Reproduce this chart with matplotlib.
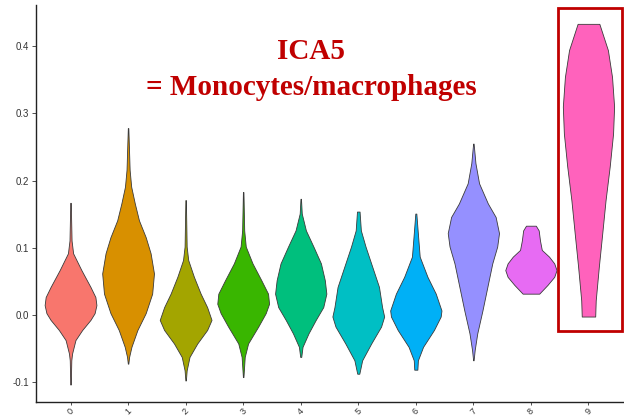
import matplotlib
matplotlib.use("Agg")
import matplotlib.pyplot as plt
import numpy as np
from matplotlib.patches import Rectangle

plt.rcParams.update({
    "font.family": ["Liberation Sans", "DejaVu Sans"],
    "axes.unicode_minus": False,
})

# ── Data: violin profiles (ICA5 level, relative width) ──
clusters = ["0", "1", "2", "3", "4", "5", "6", "7", "8", "9"]
colors = ["#F8766D", "#D89000", "#A3A500", "#39B600", "#00BF7D",
          "#00BFC4", "#00B0F6", "#9590FF", "#E76BF3", "#FF62BC"]

ica5_c0 = [0.167, 0.111, 0.092, 0.067, 0.042, 0.027, 0.015, 0.003, -0.007, -0.022, -0.037, -0.057, -0.067, -0.103]
dens_c0 = [0.01, 0.04, 0.10, 0.42, 0.77, 0.96, 1.00, 0.93, 0.77, 0.45, 0.19, 0.06, 0.03, 0.01]

ica5_c1 = [0.278, 0.216, 0.191, 0.166, 0.141, 0.116, 0.092, 0.062, 0.032, 0.003, -0.022, -0.047, -0.062, -0.072]
dens_c1 = [0.01, 0.06, 0.12, 0.26, 0.42, 0.68, 0.87, 1.00, 0.93, 0.68, 0.36, 0.13, 0.04, 0.01]

ica5_c2 = [0.171, 0.102, 0.082, 0.057, 0.032, 0.012, -0.007, -0.022, -0.042, -0.062, -0.082, -0.097]
dens_c2 = [0.01, 0.04, 0.10, 0.32, 0.58, 0.83, 1.00, 0.83, 0.45, 0.15, 0.04, 0.01]

ica5_c3 = [0.183, 0.126, 0.102, 0.077, 0.052, 0.032, 0.017, 0.003, -0.017, -0.042, -0.062, -0.092]
dens_c3 = [0.01, 0.04, 0.10, 0.36, 0.70, 0.96, 1.00, 0.87, 0.58, 0.19, 0.06, 0.01]

ica5_c4 = [0.173, 0.151, 0.126, 0.102, 0.077, 0.052, 0.032, 0.012, -0.007, -0.027, -0.047, -0.062]
dens_c4 = [0.01, 0.04, 0.20, 0.49, 0.78, 0.93, 0.99, 0.87, 0.58, 0.30, 0.07, 0.02]

ica5_c5 = [0.154, 0.126, 0.102, 0.072, 0.042, 0.012, -0.002, -0.017, -0.042, -0.067, -0.087]
dens_c5 = [0.05, 0.10, 0.28, 0.54, 0.80, 0.92, 1.00, 0.88, 0.50, 0.15, 0.04]

ica5_c6 = [0.151, 0.126, 0.087, 0.057, 0.032, 0.007, -0.002, -0.022, -0.047, -0.067, -0.081]
dens_c6 = [0.02, 0.07, 0.15, 0.45, 0.77, 0.99, 0.96, 0.70, 0.28, 0.08, 0.06]

ica5_c7 = [0.255, 0.226, 0.196, 0.166, 0.146, 0.122, 0.102, 0.077, 0.042, 0.007, -0.027, -0.052, -0.067]
dens_c7 = [0.01, 0.08, 0.22, 0.56, 0.86, 0.99, 0.92, 0.73, 0.54, 0.35, 0.15, 0.05, 0.01]

ica5_c8 = [0.133, 0.126, 0.111, 0.097, 0.087, 0.077, 0.067, 0.057, 0.045, 0.032]
dens_c8 = [0.19, 0.30, 0.35, 0.42, 0.70, 0.90, 0.99, 0.90, 0.64, 0.32]

ica5_c9 = [0.433, 0.394, 0.354, 0.310, 0.270, 0.221, 0.171, 0.121, 0.072, 0.022, -0.002]
dens_c9 = [0.42, 0.75, 0.91, 0.99, 0.95, 0.82, 0.66, 0.53, 0.40, 0.28, 0.26]

levels = [ica5_c0, ica5_c1, ica5_c2, ica5_c3, ica5_c4, ica5_c5, ica5_c6, ica5_c7, ica5_c8, ica5_c9]
dens = [dens_c0, dens_c1, dens_c2, dens_c3, dens_c4, dens_c5, dens_c6, dens_c7, dens_c8, dens_c9]

yticks = [-0.1, 0.0, 0.1, 0.2, 0.3, 0.4]
ytick_labels = ["-0.1", "0.0", "0.1", "0.2", "0.3", "0.4"]

# ── Figure ──────────────────────────────────────────────────
fig = plt.figure(figsize=(6.24, 4.18), dpi=100)
ax = fig.add_axes([36 / 624, 16 / 418, 587 / 624, 397 / 418])

half = 0.45
for i, (lv, d, col) in enumerate(zip(levels, dens, colors)):
    lv = np.array(lv)
    d = np.array(d)
    ax.fill_betweenx(lv, i - half * d, i + half * d, facecolor=col,
                     edgecolor="#3a3a3a", linewidth=0.6, zorder=2)

ax.set_xlim(-0.6, 9.6)
ax.set_ylim(-0.129, 0.461)

ax.set_xticks(range(len(clusters)))
ax.set_xticklabels(clusters, rotation=45, ha="center", fontsize=6.5, color="#333333")
ax.set_yticks(yticks)
ax.set_yticklabels(ytick_labels, fontsize=7, color="#333333")
ax.tick_params(axis="y", length=3, width=0.6, color="#333333", pad=2)
ax.tick_params(axis="x", length=2.5, width=0.6, color="#333333", pad=1)

for s in ["top", "right"]:
    ax.spines[s].set_visible(False)
for s in ["left", "bottom"]:
    ax.spines[s].set_linewidth(1.0)
    ax.spines[s].set_color("#222222")

# highlight box around cluster 9
ax.add_patch(Rectangle((8.47, -0.0238), 1.11, 0.4803, fill=False,
                       edgecolor="#C00000", linewidth=2.0, clip_on=False, zorder=5))

# title annotation
fig.text(311 / 624, 1 - 59 / 418, "ICA5", ha="center", va="baseline",
         fontsize=21, fontweight="bold", color="#C00000", family="Liberation Serif")
fig.text(311 / 624, 1 - 95 / 418, "= Monocytes/macrophages", ha="center", va="baseline",
         fontsize=21, fontweight="bold", color="#C00000", family="Liberation Serif")

fig.savefig("out.png", dpi=100)
